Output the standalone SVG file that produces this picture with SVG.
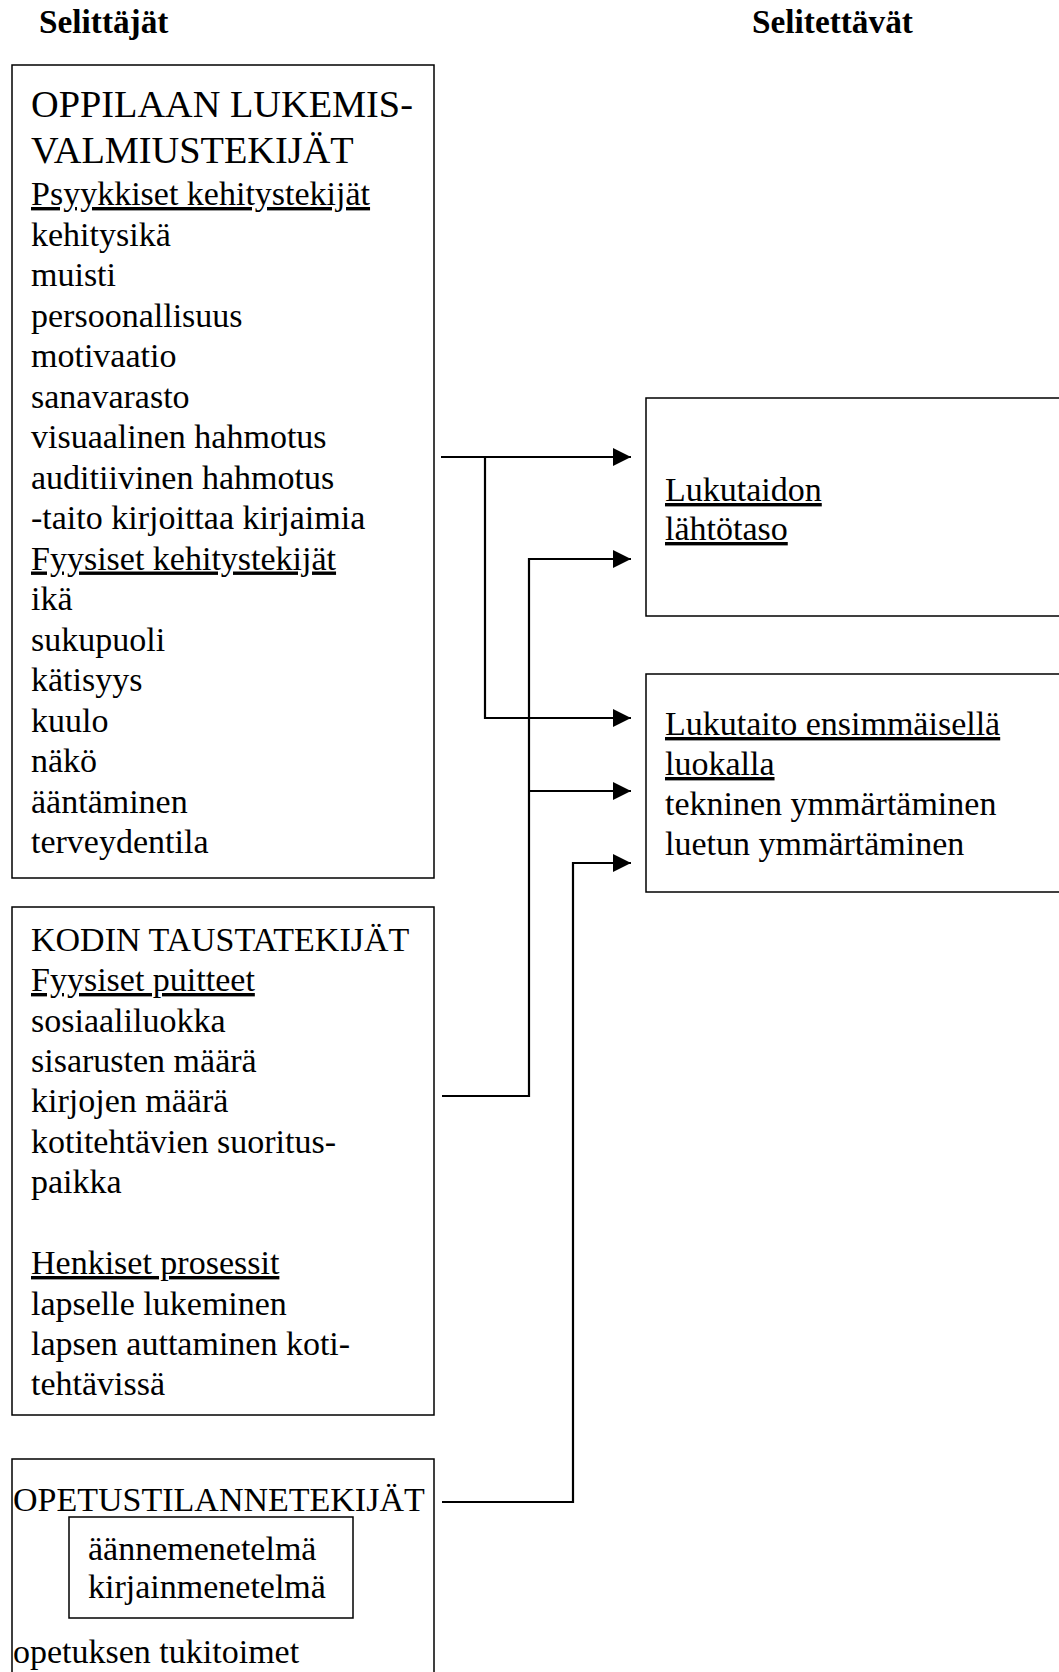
<svg xmlns="http://www.w3.org/2000/svg" width="1059" height="1672" viewBox="0 0 1059 1672">
<style>
text { font-family: "Liberation Serif", "Times New Roman", serif; font-size: 34px; fill: #000; }
.hd { font-weight: bold; font-size: 33.3px; }
.big { font-size: 38.3px; }
.u { text-decoration: underline; }
.box { fill: #fff; stroke: #000; stroke-width: 1.5; }
.conn { fill: none; stroke: #000; stroke-width: 2.2; }
</style>
<defs>
<marker id="arr" markerUnits="userSpaceOnUse" markerWidth="18" markerHeight="18" refX="18" refY="9" orient="auto">
<path d="M0,0 L18,9 L0,18 z" fill="#000"/>
</marker>
</defs>
<rect width="1059" height="1672" fill="#fff"/>

<g id="headers">
<text class="hd" x="39" y="33">Selittäjät</text>
<text class="hd" x="752" y="33">Selitettävät</text>
</g>

<g id="oppilaan">
<rect class="box" x="12" y="65" width="422" height="813"/>
<text class="big" x="31" y="117">OPPILAAN LUKEMIS-</text>
<text class="big" x="31" y="163">VALMIUSTEKIJÄT</text>
<text class="u" x="31" y="205">Psyykkiset kehitystekijät</text>
<text x="31" y="245.5">kehitysikä</text>
<text x="31" y="286">muisti</text>
<text x="31" y="326.5">persoonallisuus</text>
<text x="31" y="367">motivaatio</text>
<text x="31" y="407.5">sanavarasto</text>
<text x="31" y="448">visuaalinen hahmotus</text>
<text x="31" y="488.5">auditiivinen hahmotus</text>
<text x="31" y="529">-taito kirjoittaa kirjaimia</text>
<text class="u" x="31" y="569.5">Fyysiset kehitystekijät</text>
<text x="31" y="610">ikä</text>
<text x="31" y="650.5">sukupuoli</text>
<text x="31" y="691">kätisyys</text>
<text x="31" y="731.5">kuulo</text>
<text x="31" y="772">näkö</text>
<text x="31" y="812.5">ääntäminen</text>
<text x="31" y="853">terveydentila</text>
</g>

<g id="kodin">
<rect class="box" x="12" y="907" width="422" height="508"/>
<text x="31" y="951">KODIN TAUSTATEKIJÄT</text>
<text class="u" x="31" y="991">Fyysiset puitteet</text>
<text x="31" y="1031.5">sosiaaliluokka</text>
<text x="31" y="1072">sisarusten määrä</text>
<text x="31" y="1112">kirjojen määrä</text>
<text x="31" y="1152.5">kotitehtävien suoritus-</text>
<text x="31" y="1193">paikka</text>
<text class="u" x="31" y="1274">Henkiset prosessit</text>
<text x="31" y="1314.5">lapselle lukeminen</text>
<text x="31" y="1354.5">lapsen auttaminen koti-</text>
<text x="31" y="1395">tehtävissä</text>
</g>

<g id="opetus">
<rect class="box" x="12" y="1459" width="422" height="240"/>
<text x="13" y="1511">OPETUSTILANNETEKIJÄT</text>
<rect class="box" x="69" y="1517" width="284" height="101"/>
<text x="88" y="1560">äännemenetelmä</text>
<text x="88" y="1598">kirjainmenetelmä</text>
<text x="13" y="1663">opetuksen tukitoimet</text>
</g>

<g id="lahtotaso">
<rect class="box" x="646" y="398" width="430" height="218"/>
<text class="u" x="665" y="501">Lukutaidon</text>
<text class="u" x="665" y="540">lähtötaso</text>
</g>

<g id="ensimmainen">
<rect class="box" x="646" y="674" width="430" height="218"/>
<text class="u" x="665" y="735">Lukutaito ensimmäisellä</text>
<text class="u" x="665" y="775">luokalla</text>
<text x="665" y="815">tekninen ymmärtäminen</text>
<text x="665" y="855">luetun ymmärtäminen</text>
</g>

<g id="connectors">
<path class="conn" d="M441,457 H631" marker-end="url(#arr)"/>
<path class="conn" d="M485,457 V718 H631" marker-end="url(#arr)"/>
<path class="conn" d="M442,1096 H529 V559 H631" marker-end="url(#arr)"/>
<path class="conn" d="M529,791 H631" marker-end="url(#arr)"/>
<path class="conn" d="M442,1502 H573 V863 H631" marker-end="url(#arr)"/>
</g>
</svg>
